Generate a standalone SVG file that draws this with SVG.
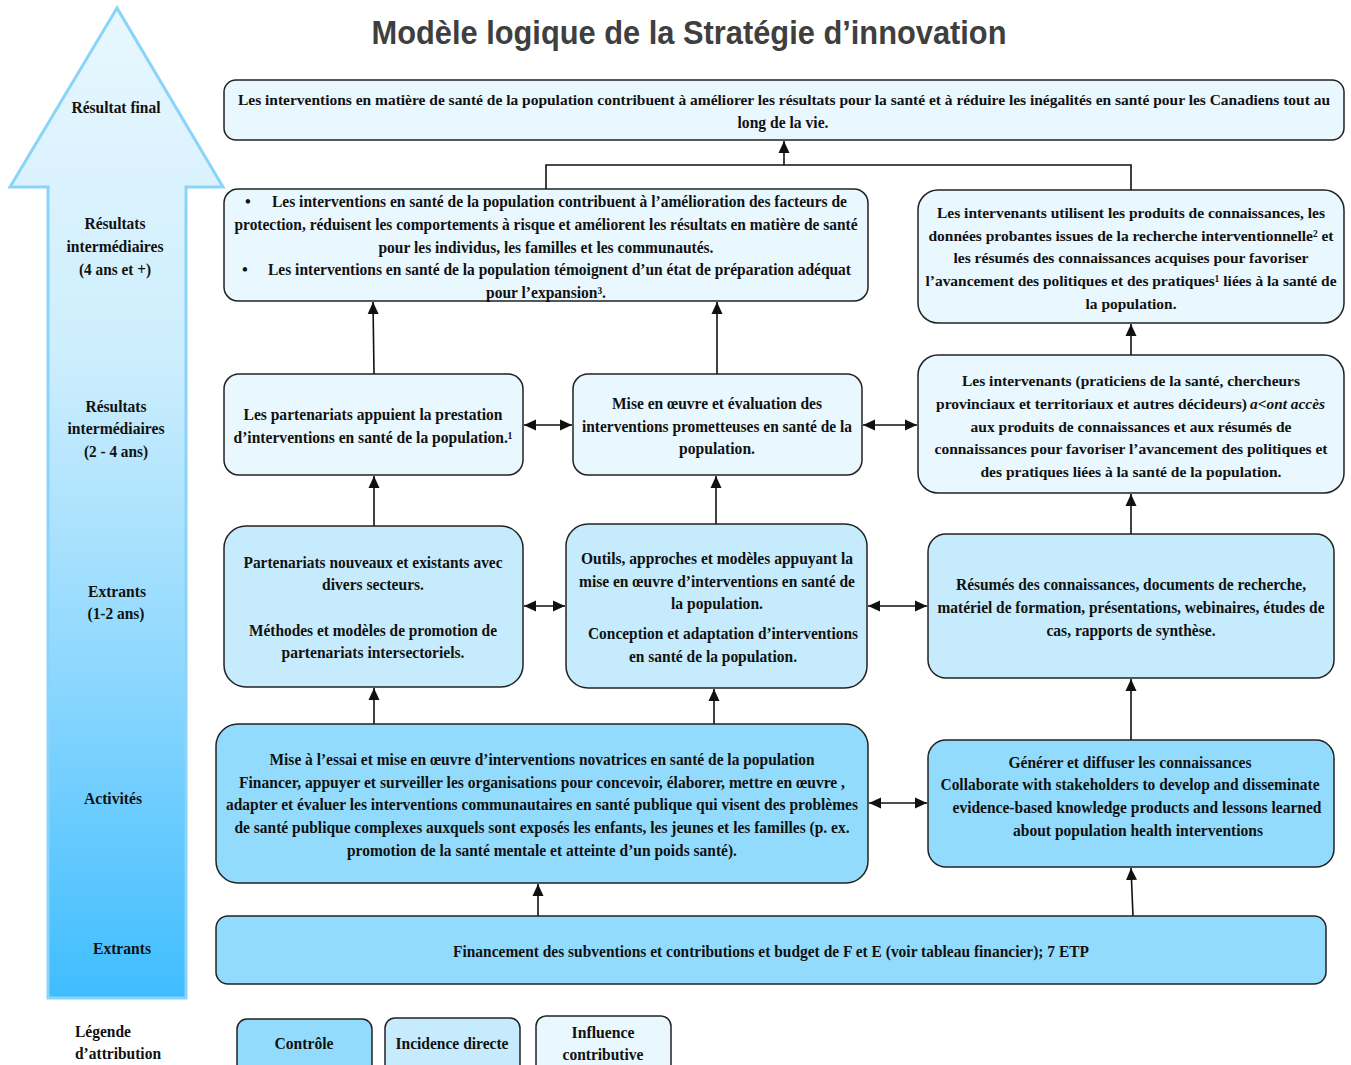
<svg xmlns="http://www.w3.org/2000/svg" width="1351" height="1065" viewBox="0 0 1351 1065">
<style>
.t{font-family:"Liberation Serif","Times New Roman",serif;font-weight:bold;font-size:16.5px;fill:#111;text-anchor:middle}
.n{font-size:15.5px}
.s{text-anchor:start}
.lt{fill:#E9F7FE;stroke:#222;stroke-width:1.5}
.md{fill:#C6EBFC;stroke:#222;stroke-width:1.5}
.dk{fill:#93DBFD;stroke:#222;stroke-width:1.5}
.c{fill:none;stroke:#111;stroke-width:1.6}
.a{marker-end:url(#ah)}
.b{marker-start:url(#ah);marker-end:url(#ah)}
</style>
<defs>
<linearGradient id="g" x1="0" y1="0" x2="0" y2="1">
<stop offset="0" stop-color="#E8F7FE"/>
<stop offset="0.35" stop-color="#CDEEFD"/>
<stop offset="0.65" stop-color="#92D9FE"/>
<stop offset="1" stop-color="#3FBDFE"/>
</linearGradient>
<marker id="ah" markerWidth="12" markerHeight="12" refX="12" refY="6" orient="auto-start-reverse" markerUnits="userSpaceOnUse">
<path d="M0,0.5 L12,6 L0,11.5 z" fill="#111"/>
</marker>
</defs>
<rect width="1351" height="1065" fill="#fff"/>
<text x="689" y="44" textLength="635" lengthAdjust="spacingAndGlyphs" style="font-family:'Liberation Sans',Arial,sans-serif;font-weight:bold;font-size:34px;fill:#3F3F3F;text-anchor:middle">Modèle logique de la Stratégie d’innovation</text>

<g id="axis">
<polygon points="117,8 10,187 48,187 48,998 186,998 186,187 223,187" fill="url(#g)" stroke="#8AD4FA" stroke-width="3"/>
<text class="t" x="116" y="113" textLength="89" lengthAdjust="spacingAndGlyphs">Résultat final</text>
<text class="t" x="115" y="229" textLength="61" lengthAdjust="spacingAndGlyphs">Résultats</text>
<text class="t" x="115" y="252" textLength="97" lengthAdjust="spacingAndGlyphs">intermédiaires</text>
<text class="t" x="115" y="275" textLength="72" lengthAdjust="spacingAndGlyphs">(4 ans et +)</text>
<text class="t" x="116" y="412" textLength="61" lengthAdjust="spacingAndGlyphs">Résultats</text>
<text class="t" x="116" y="434" textLength="97" lengthAdjust="spacingAndGlyphs">intermédiaires</text>
<text class="t" x="116" y="457" textLength="64" lengthAdjust="spacingAndGlyphs">(2 - 4 ans)</text>
<text class="t" x="117" y="597" textLength="58" lengthAdjust="spacingAndGlyphs">Extrants</text>
<text class="t" x="116" y="619" textLength="57" lengthAdjust="spacingAndGlyphs">(1-2 ans)</text>
<text class="t" x="113" y="804" textLength="58" lengthAdjust="spacingAndGlyphs">Activités</text>
<text class="t" x="122" y="954" textLength="58" lengthAdjust="spacingAndGlyphs">Extrants</text>
</g>

<g id="connectors">
<polyline class="c" points="546,189 546,165 1131,165 1131,190"/>
<line class="c a" x1="784" y1="165" x2="784" y2="141"/>
<line class="c a" x1="374" y1="374" x2="373" y2="302"/>
<line class="c a" x1="717" y1="374" x2="717" y2="302"/>
<line class="c a" x1="1131" y1="355" x2="1131" y2="324"/>
<line class="c b" x1="524" y1="425" x2="572" y2="425"/>
<line class="c b" x1="863" y1="425" x2="917" y2="425"/>
<line class="c a" x1="374" y1="526" x2="374" y2="476"/>
<line class="c a" x1="716" y1="524" x2="716" y2="476"/>
<line class="c a" x1="1131" y1="534" x2="1131" y2="494"/>
<line class="c b" x1="524" y1="606" x2="565" y2="606"/>
<line class="c b" x1="868" y1="606" x2="927" y2="606"/>
<line class="c a" x1="374" y1="724" x2="374" y2="688"/>
<line class="c a" x1="714" y1="724" x2="714" y2="689"/>
<line class="c a" x1="1131" y1="740" x2="1131" y2="679"/>
<line class="c b" x1="869" y1="803" x2="927" y2="803"/>
<line class="c a" x1="538" y1="916" x2="538" y2="884"/>
<line class="c a" x1="1133" y1="916" x2="1131" y2="868"/>
</g>

<g id="final">
<rect class="lt" x="224" y="80" width="1120" height="60" rx="12"/>
<text class="t n" x="784" y="105" textLength="1092" lengthAdjust="spacingAndGlyphs">Les interventions en matière de santé de la population contribuent à améliorer les résultats pour la santé et à réduire les inégalités en santé pour les Canadiens tout au</text>
<text class="t" x="783" y="128" textLength="91" lengthAdjust="spacingAndGlyphs">long de la vie.</text>
</g>

<g id="inter-left">
<rect class="lt" x="224" y="189" width="644" height="112" rx="14"/>
<text class="t" x="248" y="207">•</text>
<text class="t s" x="272" y="207" textLength="575" lengthAdjust="spacingAndGlyphs">Les interventions en santé de la population contribuent à l’amélioration des facteurs de</text>
<text class="t" x="546" y="230" textLength="623" lengthAdjust="spacingAndGlyphs">protection, réduisent les comportements à risque et améliorent les résultats en matière de santé</text>
<text class="t" x="546" y="253" textLength="335" lengthAdjust="spacingAndGlyphs">pour les individus, les familles et les communautés.</text>
<text class="t" x="245" y="275">•</text>
<text class="t s" x="268" y="275" textLength="583" lengthAdjust="spacingAndGlyphs">Les interventions en santé de la population témoignent d’un état de préparation adéquat</text>
<text class="t" x="546" y="298" textLength="120" lengthAdjust="spacingAndGlyphs">pour l’expansion³.</text>
</g>

<g id="inter-right">
<rect class="lt" x="918" y="190" width="426" height="133" rx="20"/>
<text class="t n" x="1131" y="218" textLength="388" lengthAdjust="spacingAndGlyphs">Les intervenants utilisent les produits de connaissances, les</text>
<text class="t n" x="1131" y="241" textLength="405" lengthAdjust="spacingAndGlyphs">données probantes issues de la recherche interventionnelle² et</text>
<text class="t n" x="1131" y="263" textLength="355" lengthAdjust="spacingAndGlyphs">les résumés des connaissances acquises pour favoriser</text>
<text class="t n" x="1131" y="286" textLength="411" lengthAdjust="spacingAndGlyphs">l’avancement des politiques et des pratiques¹ liées à la santé de</text>
<text class="t n" x="1131" y="309" textLength="91" lengthAdjust="spacingAndGlyphs">la population.</text>
</g>

<g id="short-left">
<rect class="lt" x="224" y="374" width="299" height="101" rx="15"/>
<text class="t" x="373" y="420" textLength="259" lengthAdjust="spacingAndGlyphs">Les partenariats appuient la prestation</text>
<text class="t" x="373" y="443" textLength="279" lengthAdjust="spacingAndGlyphs">d’interventions en santé de la population.¹</text>
</g>

<g id="short-mid">
<rect class="lt" x="573" y="374" width="289" height="101" rx="15"/>
<text class="t" x="717" y="409" textLength="210" lengthAdjust="spacingAndGlyphs">Mise en œuvre et évaluation des</text>
<text class="t" x="717" y="432" textLength="270" lengthAdjust="spacingAndGlyphs">interventions prometteuses en santé de la</text>
<text class="t" x="717" y="454" textLength="76" lengthAdjust="spacingAndGlyphs">population.</text>
</g>

<g id="short-right">
<rect class="lt" x="918" y="355" width="426" height="138" rx="20"/>
<text class="t n" x="1131" y="386" textLength="338" lengthAdjust="spacingAndGlyphs">Les intervenants (praticiens de la santé, chercheurs</text>
<text class="t n s" x="936" y="409" textLength="311" lengthAdjust="spacingAndGlyphs">provinciaux et territoriaux et autres décideurs)</text>
<text class="t n s" x="1250" y="409" textLength="75" lengthAdjust="spacingAndGlyphs" font-style="italic">a&lt;ont accès</text>
<text class="t n" x="1131" y="432" textLength="321" lengthAdjust="spacingAndGlyphs">aux produits de connaissances et aux résumés de</text>
<text class="t n" x="1131" y="454" textLength="393" lengthAdjust="spacingAndGlyphs">connaissances pour favoriser l’avancement des politiques et</text>
<text class="t n" x="1131" y="477" textLength="301" lengthAdjust="spacingAndGlyphs">des pratiques liées à la santé de la population.</text>
</g>

<g id="out-left">
<rect class="md" x="224" y="526" width="299" height="161" rx="22"/>
<text class="t" x="373" y="568" textLength="259" lengthAdjust="spacingAndGlyphs">Partenariats nouveaux et existants avec</text>
<text class="t" x="373" y="590" textLength="102" lengthAdjust="spacingAndGlyphs">divers secteurs.</text>
<text class="t" x="373" y="636" textLength="248" lengthAdjust="spacingAndGlyphs">Méthodes et modèles de promotion de</text>
<text class="t" x="373" y="658" textLength="183" lengthAdjust="spacingAndGlyphs">partenariats intersectoriels.</text>
</g>

<g id="out-mid">
<rect class="md" x="566" y="524" width="301" height="164" rx="22"/>
<text class="t" x="717" y="564" textLength="272" lengthAdjust="spacingAndGlyphs">Outils, approches et modèles appuyant la</text>
<text class="t" x="717" y="587" textLength="276" lengthAdjust="spacingAndGlyphs">mise en œuvre d’interventions en santé de</text>
<text class="t" x="717" y="609" textLength="92" lengthAdjust="spacingAndGlyphs">la population.</text>
<text class="t" x="723" y="639" textLength="270" lengthAdjust="spacingAndGlyphs">Conception et adaptation d’interventions</text>
<text class="t" x="713" y="662" textLength="168" lengthAdjust="spacingAndGlyphs">en santé de la population.</text>
</g>

<g id="out-right">
<rect class="md" x="928" y="534" width="406" height="144" rx="18"/>
<text class="t" x="1131" y="590" textLength="350" lengthAdjust="spacingAndGlyphs">Résumés des connaissances, documents de recherche,</text>
<text class="t" x="1131" y="613" textLength="387" lengthAdjust="spacingAndGlyphs">matériel de formation, présentations, webinaires, études de</text>
<text class="t" x="1131" y="636" textLength="169" lengthAdjust="spacingAndGlyphs">cas, rapports de synthèse.</text>
</g>

<g id="act-left">
<rect class="dk" x="216" y="724" width="652" height="159" rx="22"/>
<text class="t" x="542" y="765" textLength="545" lengthAdjust="spacingAndGlyphs">Mise à l’essai et mise en œuvre d’interventions novatrices en santé de la population</text>
<text class="t" x="542" y="788" textLength="606" lengthAdjust="spacingAndGlyphs">Financer, appuyer et surveiller les organisations pour concevoir, élaborer, mettre en œuvre ,</text>
<text class="t" x="542" y="810" textLength="632" lengthAdjust="spacingAndGlyphs">adapter et évaluer les interventions communautaires en santé publique qui visent des problèmes</text>
<text class="t" x="542" y="833" textLength="615" lengthAdjust="spacingAndGlyphs">de santé publique complexes auxquels sont exposés les enfants, les jeunes et les familles (p. ex.</text>
<text class="t" x="542" y="856" textLength="390" lengthAdjust="spacingAndGlyphs">promotion de la santé mentale et atteinte d’un poids santé).</text>
</g>

<g id="act-right">
<rect class="dk" x="928" y="740" width="406" height="127" rx="18"/>
<text class="t" x="1130" y="768" textLength="243" lengthAdjust="spacingAndGlyphs">Générer et diffuser les connaissances</text>
<text class="t" x="1130" y="790" textLength="379" lengthAdjust="spacingAndGlyphs">Collaborate with stakeholders to develop and disseminate</text>
<text class="t" x="1137" y="813" textLength="369" lengthAdjust="spacingAndGlyphs">evidence-based knowledge products and lessons learned</text>
<text class="t" x="1138" y="836" textLength="250" lengthAdjust="spacingAndGlyphs">about population health interventions</text>
</g>

<g id="inputs">
<rect class="dk" x="216" y="916" width="1110" height="68" rx="12"/>
<text class="t" x="771" y="957" textLength="636" lengthAdjust="spacingAndGlyphs">Financement des subventions et contributions et budget de F et E (voir tableau financier); 7 ETP</text>
</g>

<g id="legend">
<text class="t s" x="75" y="1037" textLength="56" lengthAdjust="spacingAndGlyphs">Légende</text>
<text class="t s" x="75" y="1059" textLength="86" lengthAdjust="spacingAndGlyphs">d’attribution</text>
<rect class="dk" x="237" y="1019" width="135" height="60" rx="10"/>
<text class="t" x="304" y="1049" textLength="59" lengthAdjust="spacingAndGlyphs">Contrôle</text>
<rect class="md" x="385" y="1018" width="135" height="60" rx="10"/>
<text class="t" x="452" y="1049" textLength="113" lengthAdjust="spacingAndGlyphs">Incidence directe</text>
<rect class="lt" x="536" y="1016" width="135" height="62" rx="10"/>
<text class="t" x="603" y="1038" textLength="63" lengthAdjust="spacingAndGlyphs">Influence</text>
<text class="t" x="603" y="1060" textLength="81" lengthAdjust="spacingAndGlyphs">contributive</text>
</g>
</svg>
